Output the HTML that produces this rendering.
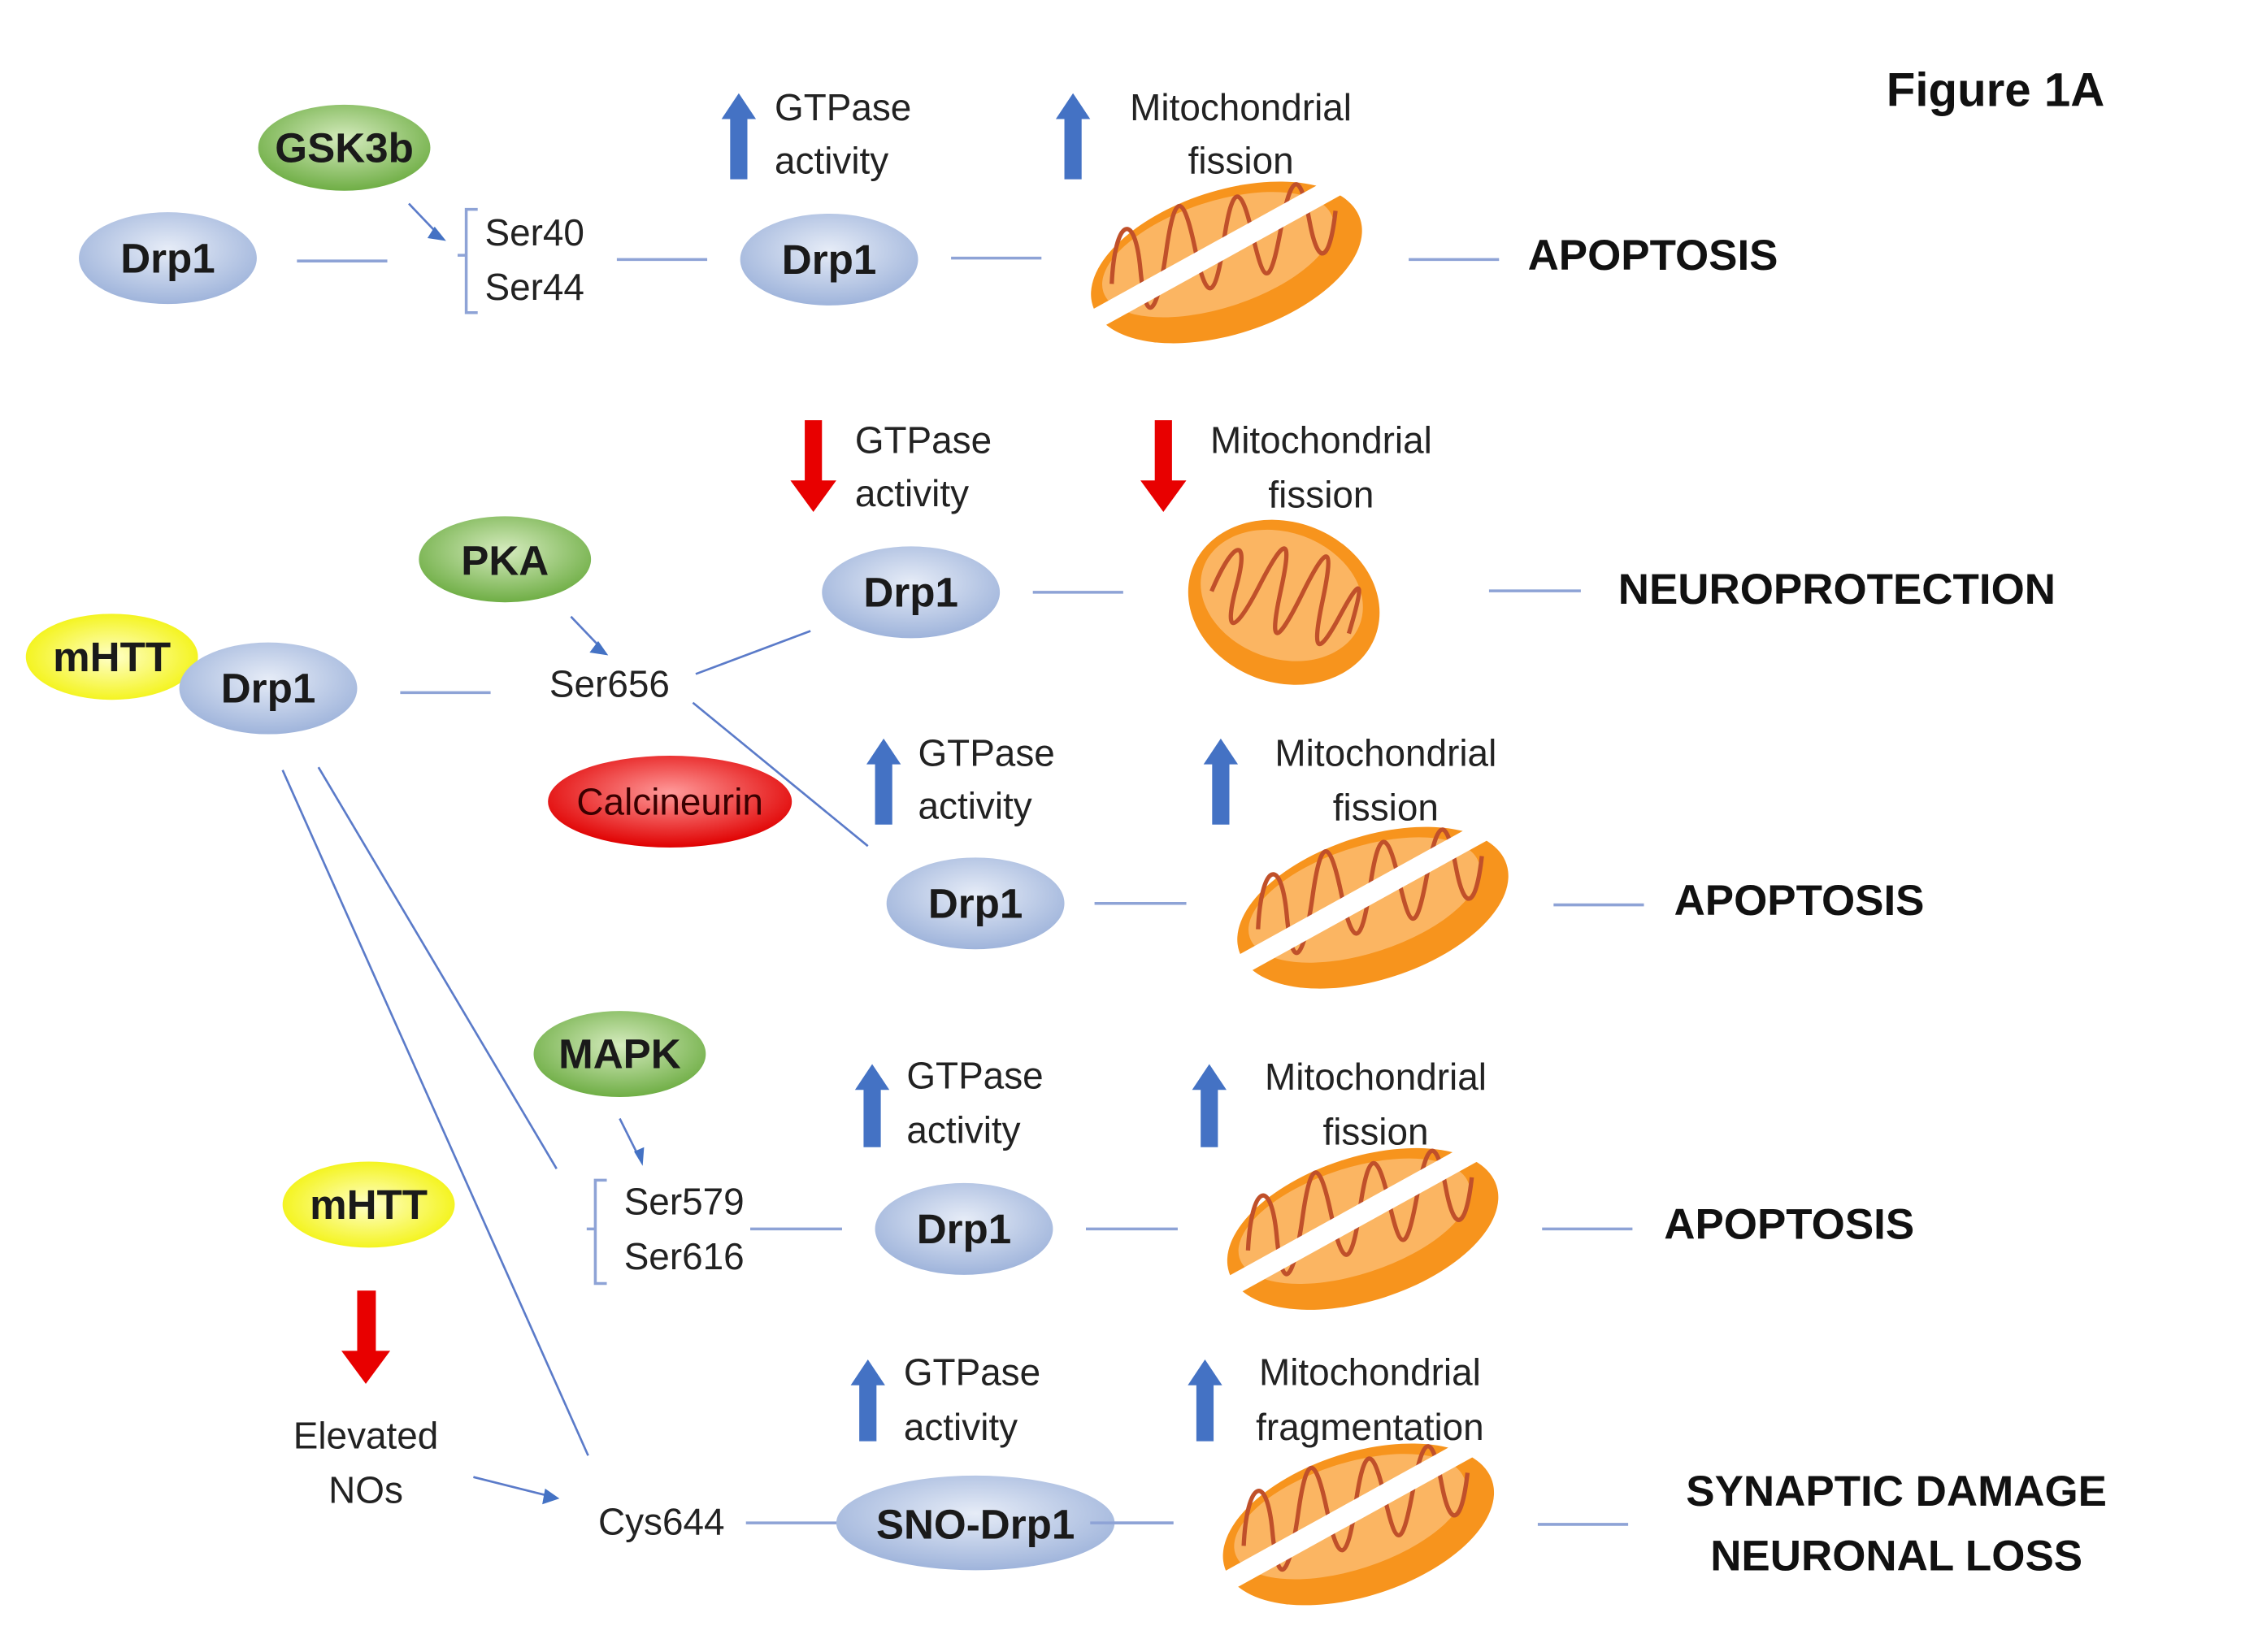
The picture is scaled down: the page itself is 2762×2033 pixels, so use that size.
<!DOCTYPE html>
<html><head><meta charset="utf-8"><style>
html,body{margin:0;padding:0;background:#fff;}
svg{display:block;}
text{font-family:"Liberation Sans",sans-serif;fill:#222;}
.l{font-size:26px;}
.b{font-size:30px;font-weight:bold;fill:#111;}
.n{font-size:29px;font-weight:bold;fill:#1a1a1a;}
</style></head><body>
<svg width="2762" height="2033" viewBox="0 0 1565 1152" preserveAspectRatio="none" xmlns="http://www.w3.org/2000/svg">
<defs>
<radialGradient id="gb" cx="50%" cy="40%" r="60%"><stop offset="0" stop-color="#E6ECF7"/><stop offset="1" stop-color="#9FB4DB"/></radialGradient>
<radialGradient id="gg" cx="50%" cy="40%" r="60%"><stop offset="0" stop-color="#D5EBBE"/><stop offset="1" stop-color="#6FAE45"/></radialGradient>
<radialGradient id="gy" cx="50%" cy="50%" r="60%"><stop offset="0" stop-color="#FFFFC8"/><stop offset="1" stop-color="#F2F200"/></radialGradient>
<radialGradient id="gr" cx="50%" cy="40%" r="60%"><stop offset="0" stop-color="#FF9A9A"/><stop offset="1" stop-color="#E00000"/></radialGradient>
<g id="mito">
<ellipse cx="0" cy="0" rx="98" ry="50" transform="rotate(-18)" fill="#F7941D"/>
<ellipse cx="-4" cy="-7" rx="84" ry="37" transform="rotate(-18)" fill="#FBB562"/>
<path d="M-80,15 C-78,-30 -64,-38 -60,5 S-48,35 -42,-8 S-30,-48 -22,-10 S-8,28 -2,-14 S10,-55 18,-20 S30,20 38,-24 S52,-60 58,-28 S72,0 76,-36" fill="none" stroke="#C0502A" stroke-width="3"/>
</g>
<g id="mitosplit">
<use href="#mito"/>
<line x1="-92" y1="40" x2="78" y2="-54" stroke="#fff" stroke-width="14"/>
</g>
<g id="mitowhole">
<ellipse cx="0" cy="0" rx="68" ry="56" transform="rotate(20)" fill="#F7941D"/>
<ellipse cx="-3" cy="-4" rx="58" ry="44" transform="rotate(20)" fill="#FBB562"/>
<path d="M-50,10 C-48,-30 -38,-35 -35,0 S-25,35 -20,-5 S-10,-45 -5,-8 S5,35 10,-10 S20,-45 25,-10 S35,30 40,-5 S48,-30 50,5" fill="none" stroke="#C0502A" stroke-width="3" transform="rotate(20)"/>
</g>
</defs>

<g stroke="#8EA3D6" stroke-width="2" fill="none">
<line x1="207" y1="182" x2="270" y2="182"/>
<line x1="430" y1="181" x2="493" y2="181"/>
<line x1="663" y1="180" x2="726" y2="180"/>
<line x1="982" y1="181" x2="1045" y2="181"/>
<line x1="720" y1="413" x2="783" y2="413"/>
<line x1="1038" y1="412" x2="1102" y2="412"/>
<line x1="279" y1="483" x2="342" y2="483"/>
<line x1="763" y1="630" x2="827" y2="630"/>
<line x1="1083" y1="631" x2="1146" y2="631"/>
<line x1="523" y1="857" x2="587" y2="857"/>
<line x1="757" y1="857" x2="821" y2="857"/>
<line x1="1075" y1="857" x2="1138" y2="857"/>
<line x1="520" y1="1062" x2="818" y2="1062"/>
<line x1="1072" y1="1063" x2="1135" y2="1063"/>
<path d="M333,146 h-8 v32 h-6 h6 v40 h8"/>
<path d="M423,823 h-8 v34 h-6 h6 v38 h8"/>
</g>
<g stroke="#5B7BC9" stroke-width="1.5" fill="none">
<line x1="485" y1="470" x2="565" y2="440"/>
<line x1="483" y1="490" x2="605" y2="590"/>
<line x1="222" y1="535" x2="388" y2="815"/>
<line x1="197" y1="537" x2="410" y2="1015"/>
<line x1="285" y1="142" x2="306" y2="164"/>
<line x1="398" y1="430" x2="420" y2="453"/>
<line x1="432" y1="780" x2="446" y2="808"/>
<line x1="330" y1="1030" x2="386" y2="1044"/>
</g>
<g fill="#4472C4">
<polygon points="303,158 311,168 298,166"/>
<polygon points="417,447 424,457 411,455"/>
<polygon points="442,803 448,813 449,800"/>
<polygon points="380,1038 390,1045 378,1049"/>
</g>

<ellipse cx="117" cy="180" rx="62" ry="32" fill="url(#gb)"/><text x="117" y="190" class="n" text-anchor="middle">Drp1</text>
<ellipse cx="240" cy="103" rx="60" ry="30" fill="url(#gg)"/><text x="240" y="113" class="n" text-anchor="middle">GSK3b</text>
<text x="338" y="171" class="l">Ser40</text><text x="338" y="209" class="l">Ser44</text>
<ellipse cx="578" cy="181" rx="62" ry="32" fill="url(#gb)"/><text x="578" y="191" class="n" text-anchor="middle">Drp1</text>

<ellipse cx="352" cy="390" rx="60" ry="30" fill="url(#gg)"/><text x="352" y="401" class="n" text-anchor="middle">PKA</text>
<ellipse cx="78" cy="458" rx="60" ry="30" fill="url(#gy)"/><text x="78" y="468" class="n" text-anchor="middle">mHTT</text>
<ellipse cx="187" cy="480" rx="62" ry="32" fill="url(#gb)"/><text x="187" y="490" class="n" text-anchor="middle">Drp1</text>
<text x="383" y="486" class="l">Ser656</text>
<ellipse cx="635" cy="413" rx="62" ry="32" fill="url(#gb)"/><text x="635" y="423" class="n" text-anchor="middle">Drp1</text>
<ellipse cx="467" cy="559" rx="85" ry="32" fill="url(#gr)"/><text x="467" y="568" class="l" text-anchor="middle" style="fill:#3a0000">Calcineurin</text>
<ellipse cx="680" cy="630" rx="62" ry="32" fill="url(#gb)"/><text x="680" y="640" class="n" text-anchor="middle">Drp1</text>

<ellipse cx="432" cy="735" rx="60" ry="30" fill="url(#gg)"/><text x="432" y="745" class="n" text-anchor="middle">MAPK</text>
<text x="435" y="847" class="l">Ser579</text><text x="435" y="885" class="l">Ser616</text>
<ellipse cx="672" cy="857" rx="62" ry="32" fill="url(#gb)"/><text x="672" y="867" class="n" text-anchor="middle">Drp1</text>

<ellipse cx="257" cy="840" rx="60" ry="30" fill="url(#gy)"/><text x="257" y="850" class="n" text-anchor="middle">mHTT</text>
<text x="255" y="1010" class="l" text-anchor="middle">Elevated</text><text x="255" y="1048" class="l" text-anchor="middle">NOs</text>
<text x="417" y="1070" class="l">Cys644</text>
<ellipse cx="680" cy="1062" rx="97" ry="33" fill="url(#gb)"/><text x="680" y="1073" class="n" text-anchor="middle">SNO-Drp1</text>
<line x1="760" y1="1062" x2="818" y2="1062" stroke="#8EA3D6" stroke-width="2"/>

<use href="#mitosplit" x="855" y="183"/>
<use href="#mitowhole" x="895" y="420"/>
<use href="#mitosplit" x="957" y="633"/>
<use href="#mitosplit" x="950" y="857"/>
<use href="#mitosplit" x="947" y="1063"/>

<g fill="#4472C4">
<polygon points="503,83 515,65 527,83 521,83 521,125 509,125 509,83"/>
<polygon points="736,83 748,65 760,83 754,83 754,125 742,125 742,83"/>
<polygon points="604,533 616,515 628,533 622,533 622,575 610,575 610,533"/>
<polygon points="839,533 851,515 863,533 857,533 857,575 845,575 845,533"/>
<polygon points="596,760 608,742 620,760 614,760 614,800 602,800 602,760"/>
<polygon points="831,760 843,742 855,760 849,760 849,800 837,800 837,760"/>
<polygon points="593,966 605,948 617,966 611,966 611,1005 599,1005 599,966"/>
<polygon points="828,966 840,948 852,966 846,966 846,1005 834,1005 834,966"/>
</g>
<g fill="#E80000">
<polygon points="561,293 573,293 573,335 583,335 567,357 551,335 561,335"/>
<polygon points="805,293 817,293 817,335 827,335 811,357 795,335 805,335"/>
<polygon points="249,900 262,900 262,942 272,942 255,965 238,942 249,942"/>
</g>

<text x="540" y="84" class="l">GTPase</text><text x="540" y="121" class="l">activity</text>
<text x="865" y="84" class="l" text-anchor="middle">Mitochondrial</text><text x="865" y="121" class="l" text-anchor="middle">fission</text>
<text x="596" y="316" class="l">GTPase</text><text x="596" y="353" class="l">activity</text>
<text x="921" y="316" class="l" text-anchor="middle">Mitochondrial</text><text x="921" y="354" class="l" text-anchor="middle">fission</text>
<text x="640" y="534" class="l">GTPase</text><text x="640" y="571" class="l">activity</text>
<text x="966" y="534" class="l" text-anchor="middle">Mitochondrial</text><text x="966" y="572" class="l" text-anchor="middle">fission</text>
<text x="632" y="759" class="l">GTPase</text><text x="632" y="797" class="l">activity</text>
<text x="959" y="760" class="l" text-anchor="middle">Mitochondrial</text><text x="959" y="798" class="l" text-anchor="middle">fission</text>
<text x="630" y="966" class="l">GTPase</text><text x="630" y="1004" class="l">activity</text>
<text x="955" y="966" class="l" text-anchor="middle">Mitochondrial</text><text x="955" y="1004" class="l" text-anchor="middle">fragmentation</text>

<text x="1065" y="188" class="b">APOPTOSIS</text>
<text x="1128" y="421" class="b">NEUROPROTECTION</text>
<text x="1167" y="638" class="b">APOPTOSIS</text>
<text x="1160" y="864" class="b">APOPTOSIS</text>
<text x="1322" y="1050" class="b" text-anchor="middle">SYNAPTIC DAMAGE</text>
<text x="1322" y="1095" class="b" text-anchor="middle">NEURONAL LOSS</text>
<text x="1315" y="74" style="font-size:33px;font-weight:bold;fill:#111">Figure 1A</text>
</svg>
</body></html>
